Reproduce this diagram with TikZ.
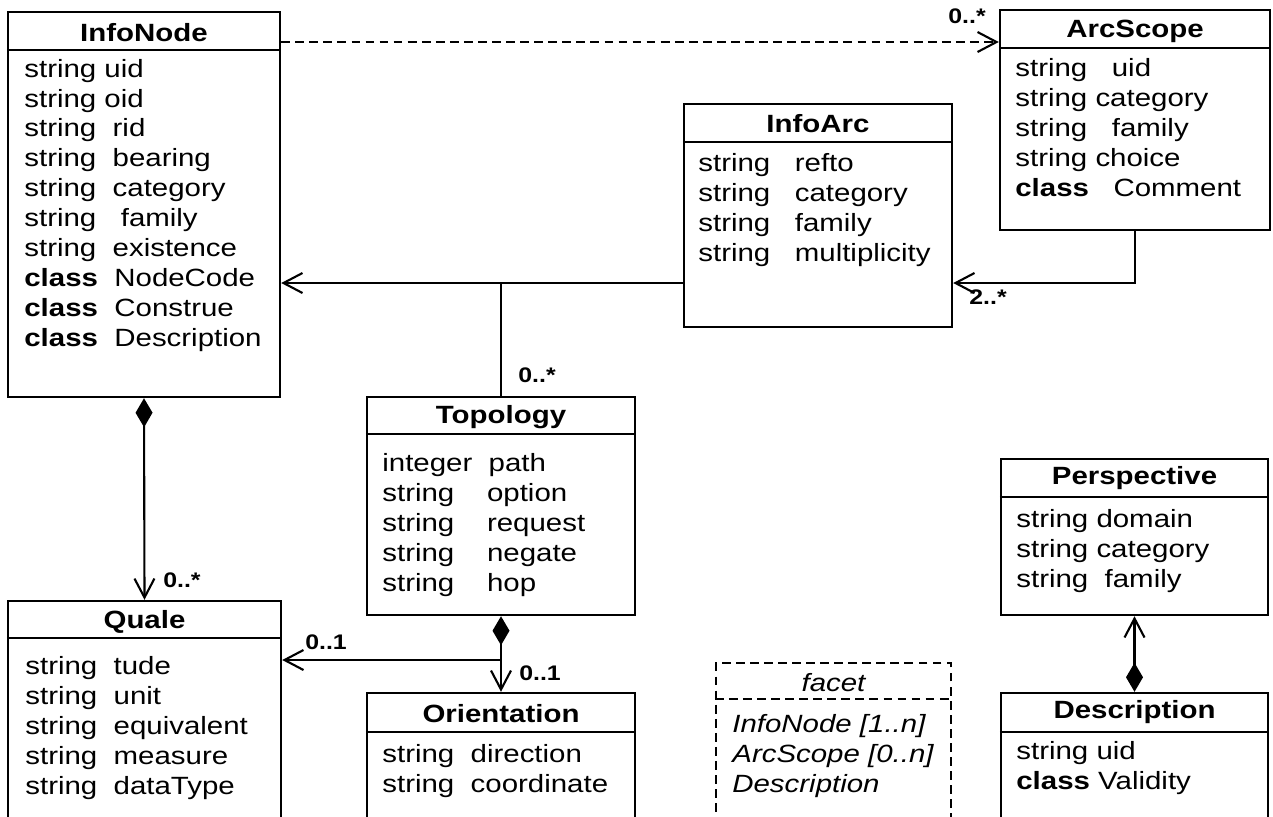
\documentclass[tikz,border=0pt]{standalone}
\usepackage{fontspec}
\setmainfont{Liberation Sans}[FakeStretch=1.18]
\usetikzlibrary{arrows.meta}
\usetikzlibrary{fit}

\tikzset{
	classbox/.style={draw, line width=1.4pt, inner sep=0pt},
	facetbox/.style={draw, line width=1.3pt, inner sep=0pt, dash pattern=on 5pt off 3pt},
	divider/.style={line width=1.4pt},
	classname/.style={font=\fontsize{14.2}{17}\selectfont\bfseries, anchor=base, inner sep=0pt},
	% base of a member list is the baseline of its last line
	members/.style={font=\fontsize{14.2}{17}\selectfont, align=left, anchor=base west, inner sep=0pt},
	mult/.style={font=\fontsize{12}{14}\selectfont\bfseries, inner sep=0pt},
	assoc/.style={line width=1.2pt, -{Straight Barb[length=0.38cm, width=0.4cm]}},
	compose/.style={line width=1.2pt, {Diamond[length=0.58cm, width=0.34cm]}-{Straight Barb[length=0.38cm, width=0.4cm]}},
}

\begin{document}
\begin{tikzpicture}[x=0.02cm, y=-0.02cm]
	\useasboundingbox (0,0) rectangle (1273,816);
	\clip (0,0) rectangle (1273,816);

	% class boxes
	\node[classbox, fit={(8,12) (280,397)}]    (infonode)    {};
	\node[classbox, fit={(1000,10) (1270,230)}] (arcscope)    {};
	\node[classbox, fit={(684,104) (952,327)}]  (infoarc)     {};
	\node[classbox, fit={(367,397) (635,615)}]  (topology)    {};
	\node[classbox, fit={(8,601) (281,840)}]    (quale)       {};
	\node[classbox, fit={(367,693) (635,840)}]  (orientation) {};
	\node[classbox, fit={(1001,459) (1268,615)}] (perspective) {};
	\node[classbox, fit={(1001,693) (1268,840)}] (description) {};
	\node[facetbox, fit={(716,663) (951,840)}]  (facet)       {};

	% title compartments
	\draw[divider] (infonode.west |- 0,50) -- (infonode.east |- 0,50);
	\draw[divider] (arcscope.west |- 0,48) -- (arcscope.east |- 0,48);
	\draw[divider] (infoarc.west |- 0,142) -- (infoarc.east |- 0,142);
	\draw[divider] (topology.west |- 0,434) -- (topology.east |- 0,434);
	\draw[divider] (quale.west |- 0,638) -- (quale.east |- 0,638);
	\draw[divider] (orientation.west |- 0,732) -- (orientation.east |- 0,732);
	\draw[divider] (perspective.west |- 0,497) -- (perspective.east |- 0,497);
	\draw[divider] (description.west |- 0,732) -- (description.east |- 0,732);
	\draw[divider, line width=1.3pt, dash pattern=on 5pt off 3pt] (facet.west |- 0,699) -- (facet.east |- 0,699);

	\node[classname] (infonode-name)    at (infonode.north |- 0,41)     {InfoNode};
	\node[classname] (arcscope-name)    at (arcscope.north |- 0,37)     {ArcScope};
	\node[classname] (infoarc-name)     at (infoarc.north |- 0,132)     {InfoArc};
	\node[classname] (topology-name)    at (topology.north |- 0,423)    {Topology};
	\node[classname] (quale-name)       at (quale.north |- 0,628)       {Quale};
	\node[classname] (orientation-name) at (orientation.north |- 0,722) {Orientation};
	\node[classname] (perspective-name) at (perspective.north |- 0,484) {Perspective};
	\node[classname] (description-name) at (description.north |- 0,718) {Description};
	\node[classname, font=\fontsize{14.2}{17}\selectfont\itshape] (facet-name) at (facet.north |- 0,691) {facet};

	% attributes
	\node[members] (infonode-members) at (24,346) {string uid\\string oid\\string~~rid\\string~~bearing\\string~~category\\string~~~family\\string~~existence\\\textbf{class}~~NodeCode\\\textbf{class}~~Construe\\\textbf{class}~~Description};
	\node[members] (arcscope-members) at (1015,196) {string~~~uid\\string category\\string~~~family\\string choice\\\textbf{class}~~~Comment};
	\node[members] (infoarc-members) at (698,261) {string~~~refto\\string~~~category\\string~~~family\\string~~~multiplicity};
	\node[members] (topology-members) at (382,591) {integer~~path\\string~~~~option\\string~~~~request\\string~~~~negate\\string~~~~hop};
	\node[members] (quale-members) at (25,794) {string~~tude\\string~~unit\\string~~equivalent\\string~~measure\\string~~dataType};
	\node[members] (orientation-members) at (382,792) {string~~direction\\string~~coordinate};
	\node[members] (perspective-members) at (1016,587) {string domain\\string category\\string~~family};
	\node[members] (description-members) at (1016,789) {string uid\\\textbf{class} Validity};
	\node[members, font=\fontsize{14.2}{17}\selectfont\itshape] (facet-members) at (732,792) {InfoNode [1..n]\\ArcScope [0..n]\\Description};

	% connector rows
	\coordinate (scoperow) at (0,42);
	\coordinate (linkrow)  at (0,283);
	\coordinate (qualerow) at (0,660);

	\draw[assoc, dash pattern=on 5pt off 3pt] (infonode.east |- scoperow) -- (arcscope.west |- scoperow);
	\draw[assoc] (arcscope.south) |- (infoarc.east |- linkrow);
	\draw[assoc] (infoarc.west |- linkrow) -- (infonode.east |- linkrow);
	\draw[line width=1.2pt] (topology.north) -- (topology.north |- linkrow);
	\draw[compose] (infonode.south) -- (quale.north);
	\draw[compose] (topology.south) -- (orientation.north);
	\draw[assoc] (topology.south |- qualerow) -- (quale.east |- qualerow);
	\draw[compose] (description.north) -- (perspective.south);

	% multiplicities
	\node[mult] (scope-mult)    at (967,16)  {0..*};
	\node[mult] (arc-mult)      at (988,297) {2..*};
	\node[mult] (topology-mult) at (537,375) {0..*};
	\node[mult] (quale-mult)    at (182,580) {0..*};
	\node[mult] (aspect-mult)   at (326,642) {0..1};
	\node[mult] (orient-mult)   at (540,673) {0..1};
\end{tikzpicture}
\end{document}
